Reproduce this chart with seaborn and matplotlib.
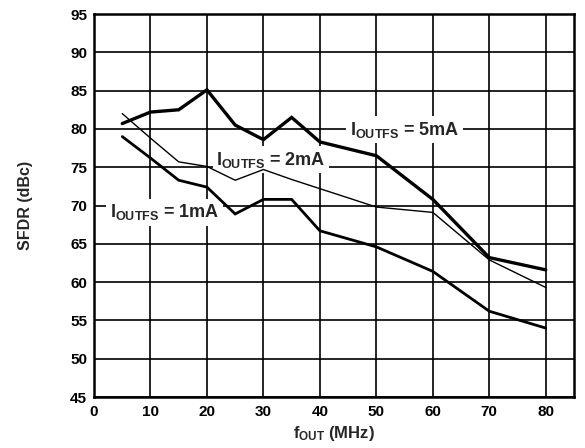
import matplotlib
matplotlib.use("Agg")
import matplotlib.pyplot as plt
import seaborn as sns
import pandas as pd

# Output frequency (MHz)
f_out = [5, 10, 15, 20, 25, 30, 35, 40, 50, 60, 70, 80]

# SFDR (dBc) for each full-scale output current
sfdr_5ma = [80.7, 82.2, 82.5, 85.1, 80.5, 78.6, 81.5, 78.3, 76.5, 70.8, 63.2, 61.6]
sfdr_2ma = [82.0, 78.8, 75.7, 75.1, 73.3, 74.7, 73.4, 72.2, 69.8, 69.1, 62.9, 59.3]
sfdr_1ma = [79.0, 76.2, 73.3, 72.4, 68.9, 70.8, 70.8, 66.7, 64.6, 61.4, 56.2, 54.0]

x_ticks = [0, 10, 20, 30, 40, 50, 60, 70, 80]
y_ticks = [45, 50, 55, 60, 65, 70, 75, 80, 85, 90, 95]

sns.set_theme(style="white")
plt.rcParams["font.family"] = ["Liberation Sans", "DejaVu Sans"]
plt.rcParams["font.weight"] = "bold"
plt.rcParams["mathtext.fontset"] = "custom"
plt.rcParams["mathtext.rm"] = "Liberation Sans:bold"
plt.rcParams["mathtext.bf"] = "Liberation Sans:bold"
plt.rcParams["mathtext.it"] = "Liberation Sans:bold"

fig = plt.figure(figsize=(5.85, 4.48), dpi=100)
ax = fig.add_axes([0.1607, 0.1138, 0.8205, 0.8549])

curves = pd.DataFrame({
    "f": f_out * 3,
    "sfdr": sfdr_5ma + sfdr_2ma + sfdr_1ma,
    "curve": ["5mA"] * len(f_out) + ["2mA"] * len(f_out) + ["1mA"] * len(f_out),
})
widths = {"5mA": 2.4, "2mA": 1.0, "1mA": 2.0}
for name, lw in widths.items():
    sns.lineplot(data=curves[curves["curve"] == name], x="f", y="sfdr",
                 color="black", linewidth=lw, ax=ax, zorder=3,
                 solid_joinstyle="miter", legend=False)

ax.set_xlim(0, 85)
ax.set_ylim(45, 95)
ax.set_xticks(x_ticks)
ax.set_yticks(y_ticks)
ax.grid(True, color="black", linewidth=1.2)
ax.set_axisbelow(True)
for sp in ax.spines.values():
    sp.set_color("black")
    sp.set_linewidth(1.8)
    sp.set_zorder(4)
ax.tick_params(axis="both", length=0, labelsize=11, colors="black")
ax.tick_params(axis="x", pad=6)
ax.tick_params(axis="y", pad=5)
for lab in ax.get_xticklabels() + ax.get_yticklabels():
    lab.set_fontweight("bold")

ax.set_xlabel(r"f$_{\mathregular{OUT}}$ (MHz)", fontsize=12, fontweight="bold", labelpad=3)
ax.set_ylabel("SFDR (dBc)", fontsize=11.5, fontweight="bold", labelpad=27)

box = dict(facecolor="white", edgecolor="none", pad=2.5)
label_pos = [(55.0, 79.9, "5mA"), (31.3, 76.0, "2mA"), (12.5, 69.1, "1mA")]
for xv, yv, cur in label_pos:
    ax.text(xv, yv, r"I$_{\mathregular{OUTFS}}$ = " + cur, ha="center", va="center",
            fontsize=13, fontweight="bold", bbox=box, zorder=2.5)

fig.savefig("out.png", dpi=100)
